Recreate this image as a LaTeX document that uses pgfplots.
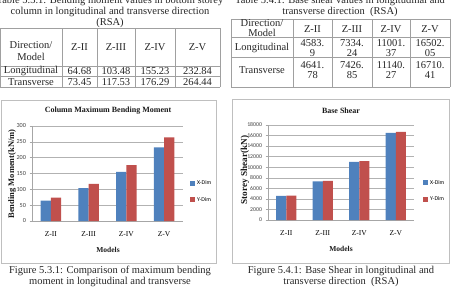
\documentclass[border=0pt]{standalone}
\usepackage{pgfplots}
\pgfplotsset{compat=1.18}
\usepackage{fontspec}
\setmainfont{Liberation Serif}
\newfontfamily\calibri{Carlito}
\definecolor{xdim}{HTML}{4F81BD}
\definecolor{ydim}{HTML}{C0504D}
\definecolor{framec}{HTML}{BFBFBF}
\definecolor{tline}{HTML}{A0A0A0}
\begin{document}
\begin{tikzpicture}
\path[use as bounding box] (0,0) rectangle (452bp,-288bp);
\tikzset{tt/.style={font=\fontsize{10.5bp}{11bp}\selectfont, inner sep=0pt, anchor=center, text=black!85},
  ct/.style={tt, align=center, font=\fontsize{10.5bp}{9.5bp}\selectfont}}
% ---------- left table ----------
\node[tt] at (110bp,-1bp) {Table 5.3.1: Bending moment values in bottom storey};
\node[tt] at (110bp,-12bp) {column in longitudinal and transverse direction};
\node[tt] at (110bp,-23bp) {(RSA)};
\foreach \y in {28,66,76,87} \draw[tline, line width=0.6bp] (0.5bp,-\y bp) -- (220bp,-\y bp);
\foreach \x in {0.5,62,97,135,175,220} \draw[tline, line width=0.6bp] (\x bp,-28bp) -- (\x bp,-87bp);
\node[ct, font=\fontsize{10.5bp}{12bp}\selectfont] at (31bp,-51bp) {Direction/\\Model};
\node[tt] at (79.5bp,-47bp) {Z-II};
\node[tt] at (116bp,-47bp) {Z-III};
\node[tt] at (155bp,-47bp) {Z-IV};
\node[tt] at (197.5bp,-47bp) {Z-V};
\node[tt] at (31bp,-71bp) {Longitudinal};
\node[tt] at (79.5bp,-71bp) {64.68};
\node[tt] at (116bp,-71bp) {103.48};
\node[tt] at (155bp,-71bp) {155.23};
\node[tt] at (197.5bp,-71bp) {232.84};
\node[tt] at (31bp,-82bp) {Transverse};
\node[tt] at (79.5bp,-82bp) {73.45};
\node[tt] at (116bp,-82bp) {117.53};
\node[tt] at (155bp,-82bp) {176.29};
\node[tt] at (197.5bp,-82bp) {264.44};
% ---------- right table ----------
\node[tt] at (340bp,-1bp) {Table 5.4.1: Base shear values in longitudinal and};
\node[tt] at (340bp,-12bp) {transverse direction\ \ (RSA)};
\foreach \y in {19,37,57,87} \draw[tline, line width=0.6bp] (231bp,-\y bp) -- (450bp,-\y bp);
\foreach \x in {231,293,332,372,410,450} \draw[tline, line width=0.6bp] (\x bp,-19bp) -- (\x bp,-87bp);
\node[ct] at (262bp,-28bp) {Direction/\\Model};
\node[tt] at (312.5bp,-29bp) {Z-II};
\node[tt] at (352bp,-29bp) {Z-III};
\node[tt] at (391bp,-29bp) {Z-IV};
\node[tt] at (430bp,-29bp) {Z-V};
\node[tt] at (262bp,-48bp) {Longitudinal};
\node[ct] at (312.5bp,-48bp) {4583.\\9};
\node[ct] at (352bp,-48bp) {7334.\\24};
\node[ct] at (391bp,-48bp) {11001.\\37};
\node[ct] at (430bp,-48bp) {16502.\\05};
\node[tt] at (262bp,-70bp) {Transverse};
\node[ct] at (312.5bp,-70bp) {4641.\\78};
\node[ct] at (352bp,-70bp) {7426.\\85};
\node[ct] at (391bp,-70bp) {11140.\\27};
\node[ct] at (430bp,-70bp) {16710.\\41};
% ---------- frames ----------
\draw[framec, line width=0.6bp] (1bp,-100bp) rectangle (216bp,-263bp);
\draw[framec, line width=0.6bp] (232bp,-99bp) rectangle (449bp,-263bp);
% ---------- left chart ----------
\begin{axis}[at={(32bp,-126bp)}, anchor=north west, scale only axis,
  width=151bp, height=95bp,
  xmin=-0.5, xmax=3.5, ymin=0, ymax=300, ytick={0,50,...,300},
  xtick={0,1,2,3}, xticklabels={Z-II,Z-III,Z-IV,Z-V},
  ybar=0pt, bar width=10.3bp,
  axis x line*=bottom, axis y line*=left,
  axis line style={draw=gray!70, line width=0.5bp},
  ymajorgrids, grid style={gray!60, line width=0.5bp},
  tick align=outside, major tick length=2.5bp,
  xtick style={draw=none}, ytick style={draw=gray!70, line width=0.5bp},
  /pgf/number format/assume math mode=true,
  yticklabel style={font=\calibri\fontsize{6.2bp}{7bp}\selectfont, text=black!75},
  xticklabel style={font=\fontsize{7.5bp}{8bp}\selectfont, yshift=-4.5bp},
  legend image code/.code={\fill[#1] (0bp,-2.5bp) rectangle (5bp,2.5bp);},
  legend style={at={(1.046,0.31)}, anchor=west, draw=none, fill=none,
    font=\calibri\fontsize{5.8bp}{6bp}\selectfont, row sep=7bp, inner sep=0pt,
    cells={anchor=west}},
  ]
\addplot[fill=xdim, draw=none] coordinates {(0,64.68) (1,103.48) (2,155.23) (3,232.84)};
\addplot[fill=ydim, draw=none] coordinates {(0,73.45) (1,117.53) (2,176.29) (3,264.44)};
\legend{X-Dim,Y-Dim}
\end{axis}
% ---------- right chart ----------
\begin{axis}[at={(268bp,-125bp)}, anchor=north west, scale only axis,
  width=146bp, height=95bp,
  xmin=-0.5, xmax=3.5, ymin=0, ymax=18000, ytick={0,2000,...,18000},
  scaled y ticks=false,
  /pgf/number format/fixed, /pgf/number format/1000 sep={},
  xtick={0,1,2,3}, xticklabels={Z-II,Z-III,Z-IV,Z-V},
  ybar=0pt, bar width=10.2bp,
  axis x line*=bottom, axis y line*=left,
  axis line style={draw=gray!70, line width=0.5bp},
  ymajorgrids, grid style={gray!60, line width=0.5bp},
  tick align=outside, major tick length=2.5bp,
  xtick style={draw=none}, ytick style={draw=gray!70, line width=0.5bp},
  /pgf/number format/assume math mode=true,
  yticklabel style={font=\calibri\fontsize{5.8bp}{7bp}\selectfont, text=black!75},
  xticklabel style={font=\fontsize{7.5bp}{8bp}\selectfont, yshift=-4.5bp},
  legend image code/.code={\fill[#1] (0bp,-2.5bp) rectangle (5bp,2.5bp);},
  legend style={at={(1.062,0.305)}, anchor=west, draw=none, fill=none,
    font=\calibri\fontsize{5.8bp}{6bp}\selectfont, row sep=7bp, inner sep=0pt,
    cells={anchor=west}},
  ]
\addplot[fill=xdim, draw=none] coordinates {(0,4583.9) (1,7334.24) (2,11001.37) (3,16502.05)};
\addplot[fill=ydim, draw=none] coordinates {(0,4641.78) (1,7426.85) (2,11140.27) (3,16710.41)};
\legend{X-Dim,Y-Dim}
\end{axis}
% ---------- chart texts ----------
\tikzset{bt/.style={font=\bfseries\fontsize{8bp}{9bp}\selectfont, inner sep=0pt, text=black!90}}
\node[bt] at (108bp,-111bp) {Column Maximum Bending Moment};
\node[bt] at (341bp,-111bp) {Base Shear};
\node[bt, rotate=90, font=\bfseries\fontsize{8.5bp}{9bp}\selectfont] at (12bp,-174bp) {Bending Moment(kN/m)};
\node[bt, rotate=90, font=\bfseries\fontsize{9.2bp}{10bp}\selectfont] at (245bp,-170bp) {Storey Shear(kN)};
\node[bt, font=\bfseries\fontsize{7.5bp}{8bp}\selectfont] at (108bp,-250bp) {Models};
\node[bt, font=\bfseries\fontsize{7.5bp}{8bp}\selectfont] at (341bp,-249bp) {Models};
% ---------- captions ----------
\node[tt] at (110bp,-271bp) {Figure 5.3.1: Comparison of maximum bending};
\node[tt] at (110bp,-282bp) {moment in longitudinal and transverse};
\node[tt] at (341bp,-271bp) {Figure 5.4.1: Base Shear in longitudinal and};
\node[tt] at (341bp,-282bp) {transverse direction\ \ (RSA)};
\end{tikzpicture}
\end{document}
